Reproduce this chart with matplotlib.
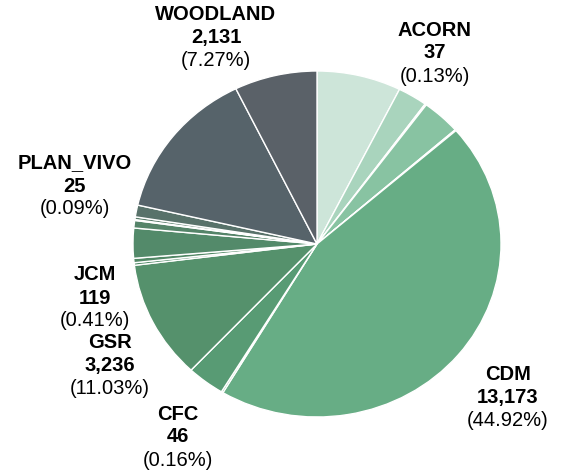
import matplotlib.pyplot as plt

plt.rcParams['font.family'] = ['Liberation Sans', 'DejaVu Sans']

# slices clockwise from 12 o'clock; '' = slice without a label
names = ['', '', 'ACORN', '', '', 'CDM', 'CFC', '', 'GSR', '', 'JCM', '',
         '', 'PLAN_VIVO', '', '', '', 'WOODLAND']
counts = [2170, 762, 37, 997, 29, 13173, 46, 968, 3236, 70, 119, 821,
          205, 25, 73, 323, 4141, 2131]
colors = ['#cde5d9', '#a9d4bd', '#98cbb0', '#88c3a2', '#76b893', '#67ad85',
          '#5fa37c', '#589b74', '#55916c', '#538b69', '#528866', '#538a6a',
          '#558469', '#567e68', '#587a69', '#58726a', '#56636a', '#5a6168']

# label anchor (pixel centre of the name line)
label_pos = {
    'WOODLAND': (216, 15),
    'ACORN': (435, 30),
    'PLAN_VIVO': (75, 163),
    'JCM': (95, 275),
    'GSR': (110, 342),
    'CFC': (178, 414),
    'CDM': (508, 375),
}

W, H = 562, 475
fig = plt.figure(figsize=(W / 100, H / 100), dpi=100)
ax = fig.add_axes([0, 0, 1, 1])

cx, cy, rx, ry = 317, 244, 184, 173
ax.pie(counts, colors=colors, startangle=90, counterclock=False,
       wedgeprops=dict(edgecolor='white', linewidth=1.0))
ax.set_aspect('auto')
ax.set_xlim(-cx / rx, (W - cx) / rx)
ax.set_ylim((cy - H) / ry, cy / ry)
ax.axis('off')

total = sum(counts)
step = 23
fs = 14.5
for name, v in zip(names, counts):
    if not name:
        continue
    px, py = label_pos[name]
    x = px / W
    fig.text(x, 1 - py / H, name, ha='center', va='center',
             fontsize=fs, fontweight='bold')
    fig.text(x, 1 - (py + step) / H, f'{v:,}', ha='center', va='center',
             fontsize=fs, fontweight='bold')
    fig.text(x, 1 - (py + 2 * step) / H, f'({v / total * 100:.2f}%)',
             ha='center', va='center', fontsize=fs)

fig.savefig('out.png', dpi=100)
